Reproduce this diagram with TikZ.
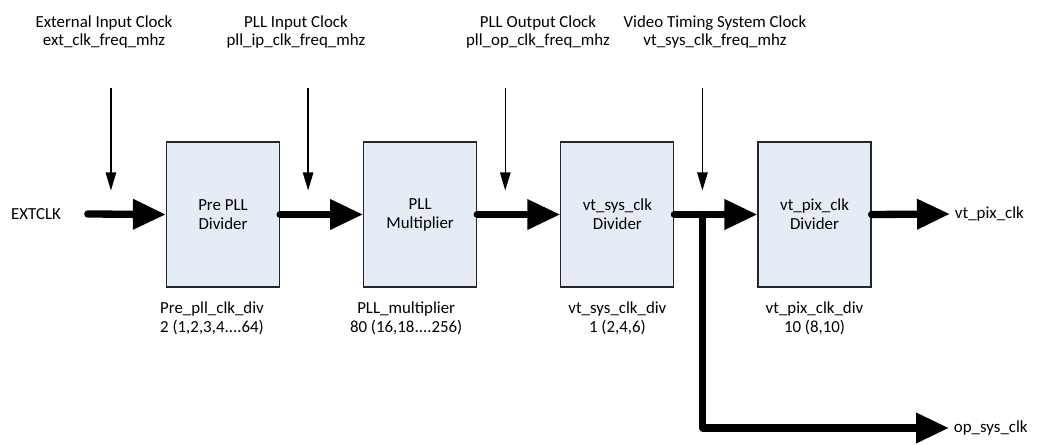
\documentclass[tikz,border=0pt]{standalone}
\usepackage{fontspec}
\setmainfont{Carlito}
\usetikzlibrary{arrows.meta,calc,positioning}
\definecolor{blockfill}{RGB}{230,236,246}

\begin{document}
\begin{tikzpicture}[x=0.025cm,y=-0.025cm,
    every node/.style={font=\fontsize{12}{13.5}\selectfont},
    block/.style={draw=black!85,fill=blockfill,line width=0.8pt,minimum width=2.825cm,minimum height=3.625cm,inner sep=0pt,align=center},
    lbl/.style={align=center,inner sep=0pt},
    bus/.style={line width=5.2pt,line cap=round,line join=round,-{Triangle[length=8.25mm,width=7.2mm]}},
    clkin/.style={line width=0.9pt,-{Triangle[length=4.5mm,width=2.6mm]}}]
  \useasboundingbox (0,0) rectangle (1044,445);

  \node[block] (prediv) at (223,214.5) {Pre PLL\\Divider};
  \node[block,right=2.075cm of prediv] (pllmul) {PLL\\Multiplier};
  \node[block,right=2.075cm of pllmul] (sysdiv) {vt\_sys\_clk\\Divider};
  \node[block,right=2.075cm of sysdiv] (pixdiv) {vt\_pix\_clk\\Divider};

  \foreach \blk/\nm in {prediv/a,pllmul/b,sysdiv/c,pixdiv/d}
    \path (\blk.west) ++(-55,-126) coordinate (top\nm) ++(0,102) coordinate (tip\nm);
  \foreach \nm in {a,b,c,d}
    \draw[clkin] (top\nm) -- (tip\nm);

  \node[lbl] (extlbl) at (104,32) {External Input Clock\\ext\_clk\_freq\_mhz};
  \node[lbl] (pipl) at (296,32) {PLL Input Clock\\pll\_ip\_clk\_freq\_mhz};
  \node[lbl] (popl) at (538,32) {PLL Output Clock\\pll\_op\_clk\_freq\_mhz};
  \node[lbl] (vtsl) at (715,32) {Video Timing System Clock\\vt\_sys\_clk\_freq\_mhz};

  \node[lbl,below=3.6mm of prediv,xshift=-2.75mm] (prel) {Pre\_pll\_clk\_div\\2 (1,2,3,4....64)};
  \node[lbl,below=3.6mm of pllmul,xshift=-3.5mm] (mull) {PLL\_multiplier\\80 (16,18....256)};
  \node[lbl,below=3.6mm of sysdiv] (sysl) {vt\_sys\_clk\_div\\1 (2,4,6)};
  \node[lbl,below=3.6mm of pixdiv] (pixl) {vt\_pix\_clk\_div\\10 (8,10)};

  \node (extclk) at (36,214) {EXTCLK};
  \coordinate[right=0.55cm of extclk.east] (extstart);
  \node[anchor=west] (pixout) at (950,214) {vt\_pix\_clk};
  \node[anchor=west] (opsys) at (949,428) {op\_sys\_clk};

  \draw[bus] (extstart) -- (prediv.west);
  \draw[bus] (prediv.east) -- (pllmul.west);
  \draw[bus] (pllmul.east) -- (sysdiv.west);
  \draw[bus] (sysdiv.east) -- (pixdiv.west);
  \draw[bus] (pixdiv.east) -- (pixout.west);
  \path (sysdiv.east) -- (pixdiv.west) coordinate[pos=0.34] (split);
  \draw[bus] (split) |- (opsys.west);
\end{tikzpicture}
\end{document}
